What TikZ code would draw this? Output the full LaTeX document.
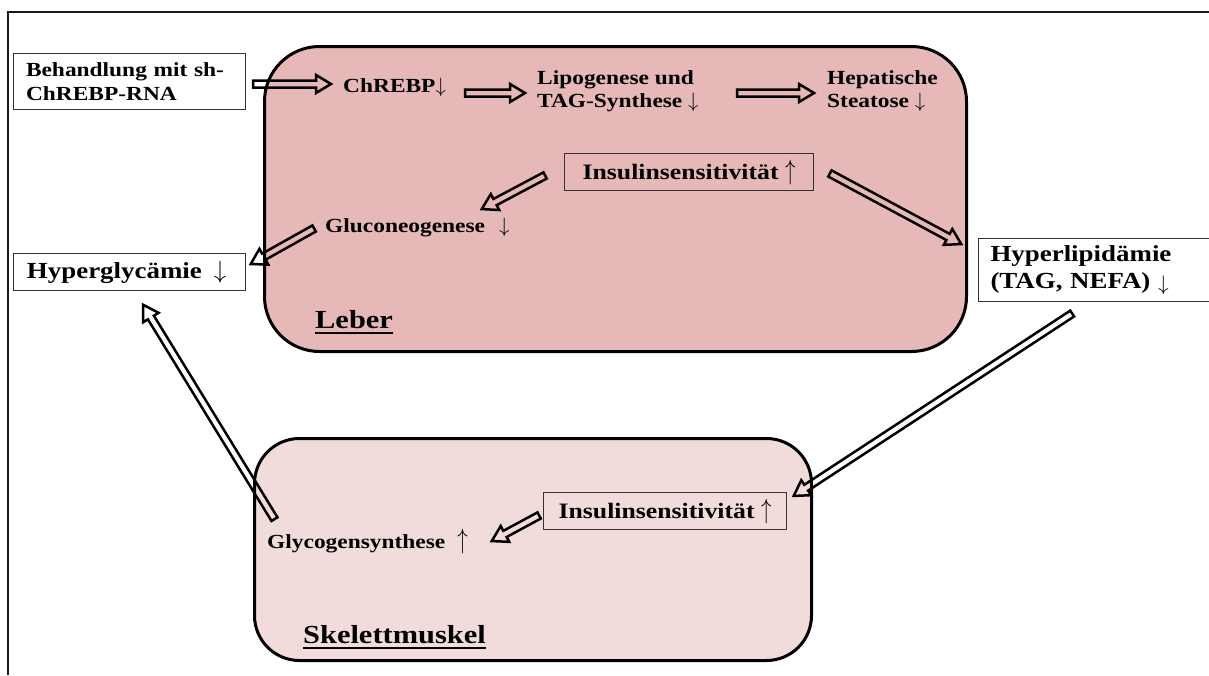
\documentclass[tikz,border=0pt]{standalone}
\usepackage{graphicx}
\usepackage{fontspec}
\setmainfont{Liberation Serif}[FakeStretch=1.17]
\usetikzlibrary{calc}
\definecolor{leberfill}{HTML}{E6B8B7}
\definecolor{muskelfill}{HTML}{F2DCDB}
\definecolor{boxline}{HTML}{333333}
\newcommand\myup{\scalebox{1}[1.35]{$\uparrow$}}
\newcommand\mydn{$\downarrow$}
\newcommand\mysmalldn{\raisebox{-2pt}{\scalebox{0.85}{$\downarrow$}}}
% hollow block arrow from #1 to #2
\newcommand\blockarrow[2]{%
  \coordinate (bat) at ($(#2)!2pt!(#1)$);
  \coordinate (bas) at ($(#1)!1pt!(#2)$);
  \coordinate (ban) at ($(bat)!15pt!(bas)$);
  \draw[hollowarrow] ($(bas)!3.5pt!90:(bat)$) -- ($(ban)!3.5pt!-90:(bas)$)
     -- ($(ban)!9pt!-90:(bas)$) -- (bat) -- ($(ban)!9pt!90:(bas)$)
     -- ($(ban)!3.5pt!90:(bas)$) -- ($(bas)!3.5pt!-90:(bat)$) -- cycle;
}
\begin{document}
\begin{tikzpicture}[x=1pt,y=-1pt,
  organ/.style={draw=black, line width=3pt, inner sep=0pt},
  infobox/.style={draw=boxline, line width=1pt, fill=white, inner sep=0pt},
  lbl/.style={inner sep=0pt, font=\bfseries\fontsize{20}{23}\selectfont},
  organlbl/.style={inner sep=0pt, font=\bfseries\fontsize{26}{30}\selectfont},
  hollowarrow/.style={draw=black, line width=2.5pt, line join=miter},
  uline/.style={line width=2pt}
]
\useasboundingbox (0,0) rectangle (1209,675);
\draw[line width=2pt, draw=black!90] (8,675) -- (8,12) -- (1209,12);

% organs
\node[organ, fill=leberfill, rounded corners=55pt, minimum width=702pt, minimum height=305pt] (leber) at (615.5,199) {};
\node[organ, fill=muskelfill, rounded corners=45pt, minimum width=557pt, minimum height=222pt] (muskel) at (533,549.5) {};

% boxes
\node[infobox, anchor=north west, minimum width=232pt, minimum height=56pt, text width=206pt, inner xsep=13pt, align=left, font=\bfseries\fontsize{20}{24}\selectfont] (beh) at (12.5,53) {Behandlung mit sh-\\ChREBP-RNA};
\node[infobox, anchor=north west, minimum width=232pt, minimum height=37pt, text width=204pt, inner xsep=14pt, align=left, font=\bfseries\fontsize{23}{26}\selectfont] (hyperg) at (12.5,253) {Hyperglycämie\hspace{12pt}\mydn};
\node[infobox, anchor=north west, minimum width=240pt, minimum height=63pt, text width=216pt, inner xsep=12pt, align=left, font=\bfseries\fontsize{23}{27}\selectfont] (hyperl) at (978,238) {Hyperlipidämie\\(TAG, NEFA) \mysmalldn};
\node[infobox, fill=none, anchor=north west, minimum width=249pt, minimum height=37pt, font=\bfseries\fontsize{22}{26}\selectfont] (insL) at (564,153) {Insulinsensitivität \myup};
\node[infobox, fill=none, anchor=north west, minimum width=243pt, minimum height=37pt, font=\bfseries\fontsize{22}{26}\selectfont] (insM) at (543,492) {Insulinsensitivität \myup};

% labels
\node[lbl, anchor=base west] (chrebp) at (343,92) {ChREBP\mydn};
\node[lbl, anchor=west, align=left] (lipo) at (537,91) {Lipogenese und\\TAG-Synthese \mydn};
\node[lbl, anchor=west, align=left] (stea) at (827,91) {Hepatische\\Steatose \mydn};
\node[lbl, anchor=base west] (gluco) at (325,232) {Gluconeogenese\hspace{14pt}\mydn};
\node[lbl, anchor=base west] (glyco) at (267,548) {Glycogensynthese\hspace{12pt}\myup};
\node[organlbl, anchor=base west] (leberlbl) at (315,328) {Leber};
\node[organlbl, anchor=base west] (muskellbl) at (303,643) {Skelettmuskel};
\draw[uline] ($(leberlbl.base west)+(0,4.5)$) -- ($(leberlbl.base east)+(0,4.5)$);
\draw[uline] ($(muskellbl.base west)+(0,4.5)$) -- ($(muskellbl.base east)+(0,4.5)$);

% arrow end points
\coordinate (a1s) at (252,84);   \coordinate (a1e) at (333,84);
\coordinate (a2s) at (464,93);   \coordinate (a2e) at (527,93);
\coordinate (a3s) at (736,93);   \coordinate (a3e) at (816,93);
\coordinate (a4s) at (546,175);  \coordinate (a4e) at (480,210);
\coordinate (a5s) at (829,173);  \coordinate (a5e) at (963,245);
\coordinate (a6s) at (315,228);  \coordinate (a6e) at (249,265);
\coordinate (a7s) at (1073,313); \coordinate (a7e) at (792,497);
\coordinate (a8s) at (275,520);  \coordinate (a8e) at (142,303);
\coordinate (a9s) at (540,515);  \coordinate (a9e) at (490,542);

\blockarrow{a1s}{a1e}
\blockarrow{a2s}{a2e}
\blockarrow{a3s}{a3e}
\blockarrow{a4s}{a4e}
\blockarrow{a5s}{a5e}
\blockarrow{a6s}{a6e}
\blockarrow{a7s}{a7e}
\blockarrow{a8s}{a8e}
\blockarrow{a9s}{a9e}
\end{tikzpicture}
\end{document}
